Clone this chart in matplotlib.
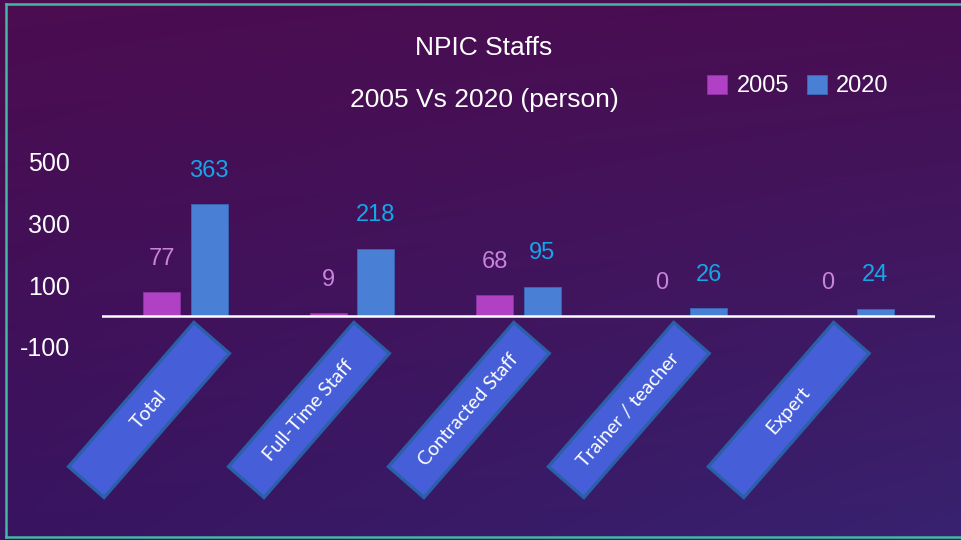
import matplotlib.pyplot as plt
import matplotlib.transforms as mtransforms
from matplotlib.patches import Rectangle
from matplotlib.lines import Line2D
import numpy as np

# === Data ===
categories = ["Total", "Full-Time Staff", "Contracted Staff", "Trainer / teacher", "Expert"]
staff_2005 = [77, 9, 68, 0, 0]
staff_2020 = [363, 218, 95, 26, 24]
series_names = ["2005", "2020"]
y_ticks = [-100, 100, 300, 500]

# === Style ===
c2005 = "#B040C4"
c2020 = "#4A7FD6"
lbl2005 = "#C883DA"
lbl2020 = "#12A8E8"
box_face = "#465FD9"
box_edge = "#2C5FAA"
border = "#41B8A2"
W, H = 961, 540

plt.rcParams["font.family"] = ["Liberation Sans", "DejaVu Sans"]
fig = plt.figure(figsize=(W / 100, H / 100), dpi=100)

# background gradient (four corner colours)
bg = fig.add_axes([0, 0, 1, 1], zorder=-10)
tl = np.array([76, 12, 80]) / 255
tr = np.array([72, 14, 82]) / 255
bl = np.array([56, 20, 96]) / 255
br = np.array([56, 34, 112]) / 255
u = np.linspace(0, 1, 200)[None, :, None]
v = np.linspace(0, 1, 120)[:, None, None]
grad = (1 - v) * ((1 - u) * tl + u * tr) + v * ((1 - u) * bl + u * br)
bg.imshow(grad, aspect="auto", extent=[0, 1, 0, 1], interpolation="bilinear")
bg.set_axis_off()

# teal border
fig.add_artist(Line2D([5.5 / W, 5.5 / W], [1 - 3.5 / H, 1 - 536.5 / H], color=border, lw=1.8))
fig.add_artist(Line2D([5.5 / W, 1], [1 - 3.5 / H, 1 - 3.5 / H], color=border, lw=1.8))
fig.add_artist(Line2D([5.5 / W, 1], [1 - 536.5 / H, 1 - 536.5 / H], color=border, lw=1.8))

# main axes: baseline at pixel y=316, 0.3085 px per person
ax = fig.add_axes([102 / W, (H - 350) / H, 833 / W, 200 / H])
ax.patch.set_alpha(0)
ax.set_xlim(-0.5, len(categories) - 0.5)
ax.set_ylim(-110, 538)

x = np.arange(len(categories))
off = 0.1426
bw = 0.222
ax.bar(x - off, staff_2005, bw, color=c2005, edgecolor="#8C34A0", lw=0.6, label=series_names[0])
ax.bar(x + off, staff_2020, bw, color=c2020, edgecolor="#3A68B8", lw=0.6, label=series_names[1])
ax.axhline(0, color="white", lw=1.8)

for xi, v5, v20 in zip(x, staff_2005, staff_2020):
    ax.annotate(str(v5), (xi - off, v5), xytext=(0, 24), textcoords="offset points",
                ha="center", va="center", fontsize=17, color=lbl2005)
    ax.annotate(str(v20), (xi + off, v20), xytext=(0, 24), textcoords="offset points",
                ha="center", va="center", fontsize=17, color=lbl2020)

ax.set_yticks(y_ticks)
ax.set_yticklabels([str(t) for t in y_ticks])
ax.tick_params(axis="y", length=0, pad=23, labelsize=18, labelcolor="white")
ax.set_xticks([])
for s in ax.spines.values():
    s.set_visible(False)

# rotated category boxes below the axis
blend = mtransforms.blended_transform_factory(ax.transData, fig.transFigure)
box_y = (H - 410) / H
for i, name in enumerate(categories):
    bx = -0.218 + 0.96 * i
    tr_box = mtransforms.Affine2D().rotate_deg(49) + mtransforms.ScaledTranslation(bx, box_y, blend)
    rect = Rectangle((-95.5, -23.5), 191, 47, transform=tr_box, facecolor=box_face,
                     edgecolor=box_edge, lw=2.4, clip_on=False)
    fig.add_artist(rect)
    fig.text(bx, box_y, name, transform=blend, rotation=49, rotation_mode="anchor",
             ha="center", va="center", color="white", fontsize=14, family=["Lato", "DejaVu Sans"])

# titles
fig.text(484 / W, 1 - 48 / H, "NPIC Staffs", ha="center", va="center", color="white", fontsize=19)
fig.text(484 / W, 1 - 100 / H, "2005 Vs 2020 (person)", ha="center", va="center", color="white", fontsize=19)

fig.legend(loc="center left", bbox_to_anchor=(707 / W, 1 - 86 / H), ncol=2, frameon=False,
           fontsize=17, labelcolor="white", handlelength=0.85, handleheight=0.85,
           handletextpad=0.4, columnspacing=0.75, borderpad=0, borderaxespad=0)

fig.savefig("out.png", dpi=100)
